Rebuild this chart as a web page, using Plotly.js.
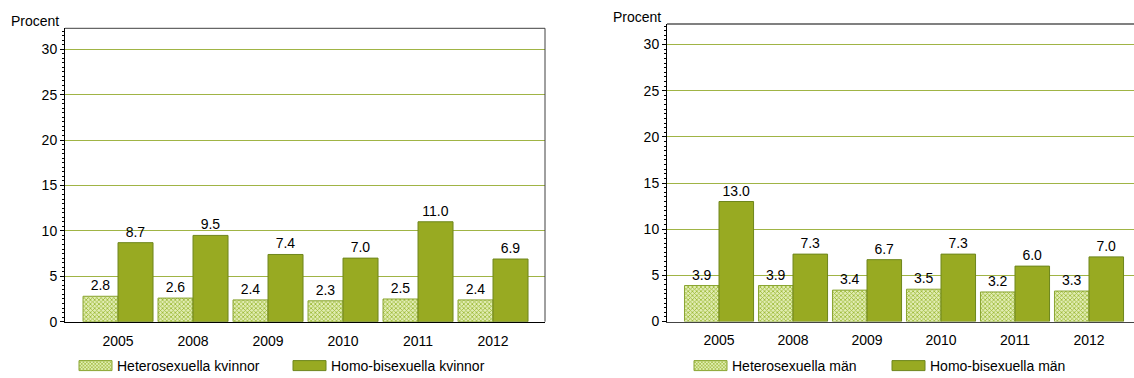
<!DOCTYPE html>
<html>
<head>
<meta charset="utf-8">
<script src="https://cdn.plot.ly/plotly-3.0.1.min.js"></script>
<style>
html,body{margin:0;padding:0;background:#fff;overflow:hidden;}
#chart{width:1134px;height:378px;}
</style>
</head>
<body>
<div id="chart"></div>
<script>
// ---- data ----
const years = ["2005", "2008", "2009", "2010", "2011", "2012"];
const heteroWomen = [2.8, 2.6, 2.4, 2.3, 2.5, 2.4];
const homoBiWomen = [8.7, 9.5, 7.4, 7.0, 11.0, 6.9];
const heteroMen = [3.9, 3.9, 3.4, 3.5, 3.2, 3.3];
const homoBiMen = [13.0, 7.3, 6.7, 7.3, 6.0, 7.0];
const seriesNames = ["Heterosexuella kvinnor", "Homo-bisexuella kvinnor", "Heterosexuella män", "Homo-bisexuella män"];
const yTicks = [0, 5, 10, 15, 20, 25, 30];
const yTitle = "Procent";

// ---- style ----
const solidColor = "#98aa22";
const solidLine = "#6e861c";
const patternFg = "#9ab832";
const patternBg = "#e2edb4";
const patternLine = "#8aa532";
const gridColor = "#a0b445";
const font = "Arial, 'Liberation Sans', sans-serif";

function heteroTrace(name, vals, xa, ya, legend) {
  return {
    type: "bar", name: name, x: years, y: vals, xaxis: xa, yaxis: ya, legend: legend,
    marker: {color: patternBg, line: {color: patternLine, width: 1},
      pattern: {shape: "x", fgcolor: patternFg, bgcolor: patternBg, size: 3, solidity: 0.45}},
    text: vals.map(v => v.toFixed(1)), textposition: "outside", cliponaxis: false,
    textfont: {family: font, size: 14, color: "#000"}, hoverinfo: "skip"
  };
}
function homoTrace(name, vals, xa, ya, legend) {
  return {
    type: "bar", name: name, x: years, y: vals, xaxis: xa, yaxis: ya, legend: legend,
    marker: {color: solidColor, line: {color: solidLine, width: 1}},
    text: vals.map(v => v.toFixed(1)), textposition: "outside", cliponaxis: false,
    textfont: {family: font, size: 14, color: "#000"}, hoverinfo: "skip"
  };
}

const data = [
  heteroTrace(seriesNames[0], heteroWomen, "x", "y", "legend"),
  homoTrace(seriesNames[1], homoBiWomen, "x", "y", "legend"),
  heteroTrace(seriesNames[2], heteroMen, "x2", "y2", "legend2"),
  homoTrace(seriesNames[3], homoBiMen, "x2", "y2", "legend2")
];

function xAxis(domain, range, anchor, lineColor) {
  return {
    domain: domain, anchor: anchor, type: "category", range: range,
    showline: true, linecolor: lineColor, linewidth: 1, ticks: "", showgrid: false,
    ticklabelstandoff: 6,
    tickfont: {family: font, size: 14, color: "#000"}, fixedrange: true, automargin: false
  };
}
function yAxis(domain, range, anchor) {
  return {
    domain: domain, anchor: anchor, range: range, tickvals: yTicks,
    showline: true, linecolor: "#000", linewidth: 1,
    ticks: "outside", ticklen: 4, tickcolor: "#000",
    minor: {dtick: 0.5, ticks: "outside", ticklen: 2, tickcolor: "#000", showgrid: false},
    showgrid: true, gridcolor: gridColor, gridwidth: 1, zeroline: false,
    tickfont: {family: font, size: 14, color: "#000"}, fixedrange: true, automargin: false
  };
}

const layout = {
  width: 1134, height: 378,
  margin: {l: 0, r: 0, t: 0, b: 0, autoexpand: false},
  paper_bgcolor: "#fff", plot_bgcolor: "#fff",
  barmode: "group", bargap: 0.0667, bargroupgap: 0,
  font: {family: font, size: 14, color: "#000"},
  xaxis: xAxis([65/1134, 545/1134], [-0.707, 5.693], "y", "#000"),
  yaxis: yAxis([(378-321.7)/378, (378-28.3)/378], [0, 32.3], "x"),
  xaxis2: xAxis([667/1134, 1], [-0.703, 5.608], "y2", "#444"),
  yaxis2: yAxis([(378-321.5)/378, (378-24)/378], [0, 32.23], "x2"),
  legend: {orientation: "h", x: 77/1134, xanchor: "left", y: 12/378, yanchor: "middle",
    font: {family: font, size: 14, color: "#000"}, entrywidth: 169, entrywidthmode: "pixels", bgcolor: "rgba(0,0,0,0)"},
  legend2: {orientation: "h", x: 692/1134, xanchor: "left", y: 12/378, yanchor: "middle",
    font: {family: font, size: 14, color: "#000"}, entrywidth: 153, entrywidthmode: "pixels", bgcolor: "rgba(0,0,0,0)"},
  shapes: [
    {type: "line", xref: "x domain", yref: "y domain", x0: 0, x1: 1, y0: 1, y1: 1, line: {color: "#404040", width: 1}},
    {type: "line", xref: "x domain", yref: "y domain", x0: 1, x1: 1, y0: 0, y1: 1, line: {color: "#404040", width: 1}},
    {type: "line", xref: "x2 domain", yref: "y2 domain", x0: 0, x1: 1, y0: 1, y1: 1, line: {color: "#808080", width: 2}}
  ],
  annotations: [
    {text: yTitle, xref: "paper", yref: "paper", x: 9/1134, y: (378-21)/378, xanchor: "left", yanchor: "middle", showarrow: false, font: {family: font, size: 14, color: "#000"}},
    {text: yTitle, xref: "paper", yref: "paper", x: 611/1134, y: (378-17)/378, xanchor: "left", yanchor: "middle", showarrow: false, font: {family: font, size: 14, color: "#000"}}
  ],
  showlegend: true
};

Plotly.newPlot("chart", data, layout, {staticPlot: true, displayModeBar: false}).then(function () {
  document.querySelectorAll(".legendpoints path").forEach(function (p) {
    p.setAttribute("d", "M-18,5H15V-5H-18Z");
  });
});
</script>
</body>
</html>
